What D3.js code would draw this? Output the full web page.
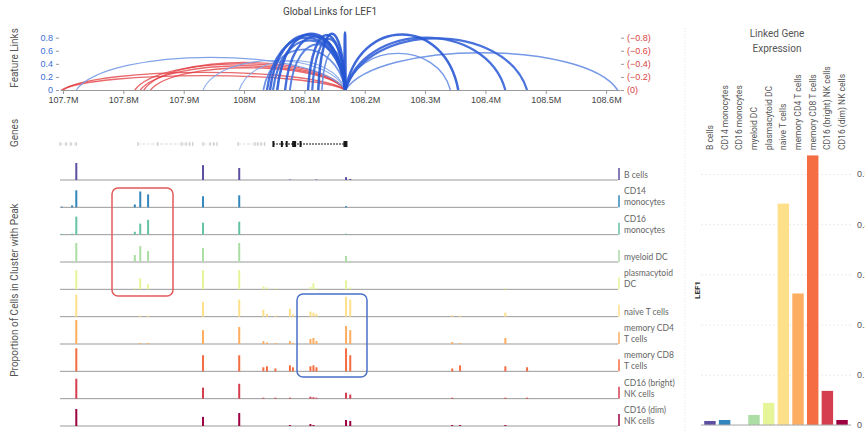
<!DOCTYPE html>
<html>
<head>
<meta charset="utf-8">
<script src="https://cdn.jsdelivr.net/npm/d3@7"></script>
<style>
  body { margin: 0; background: #fff; overflow: hidden; }
  svg { display: block; font-family: Roboto, "Noto Sans", sans-serif; }
</style>
</head>
<body>
<div id="chart"></div>
<script>
// cell clusters
const clusters = ["B cells", "CD14 monocytes", "CD16 monocytes", "myeloid DC", "plasmacytoid DC",
  "naive T cells", "memory CD4 T cells", "memory CD8 T cells", "CD16 (bright) NK cells", "CD16 (dim) NK cells"];
const trackLabels = [["B cells"], ["CD14", "monocytes"], ["CD16", "monocytes"], ["myeloid DC"],
  ["plasmacytoid", "DC"], ["naive T cells"], ["memory CD4", "T cells"], ["memory CD8", "T cells"],
  ["CD16 (bright)", "NK cells"], ["CD16 (dim)", "NK cells"]];
const clusterColors = d3.schemeSpectral[10].slice().reverse();

// links to the LEF1 TSS (Mb, score; negative = red)
const tss = 108.168;
const linkPeaks = [107.697, 107.700, 107.819, 107.828, 107.834, 107.845,
  107.722, 107.932, 107.992, 108.032, 108.038, 108.043, 108.048, 108.055, 108.068, 108.076,
  108.106, 108.113, 108.123, 108.129, 108.1665, 108.342, 108.355, 108.433, 108.469, 108.619];
const linkScores = [-0.22, -0.27, -0.40, -0.37, -0.42, -0.34,
  0.50, 0.45, 0.45, 0.62, 0.80, 0.84, 0.76, 0.86, 0.82, 0.70,
  0.84, 0.78, 0.86, 0.60, 0.88, 0.56, 0.85, 0.80, 0.79, 0.57];

// genes
const geneStarts = [107.695, 107.824, 107.932, 107.990, 108.048];
const geneEnds = [107.723, 107.916, 107.955, 108.035, 108.171];
const geneExons = [
  [107.695, 107.705, 107.713, 107.722],
  [107.824, 107.857, 107.897, 107.904, 107.910, 107.915],
  [107.932, 107.944, 107.950, 107.955],
  [107.990, 108.018, 108.023, 108.028, 108.034],
  [108.048, 108.062, 108.070, 108.083, 108.093, 108.168]
];
const geneMain = [false, false, false, false, true];

// peaks and proportion of cells in each cluster with the peak
const peakPositions = [107.698, 107.715, 107.722, 107.819, 107.828, 107.841, 107.932, 107.992,
  108.032, 108.038, 108.052, 108.076, 108.081, 108.110, 108.115, 108.120, 108.169, 108.176,
  108.345, 108.358, 108.433, 108.469];
const peakProportions = [
  [0, 0, .71, 0, 0, 0, .62, .50, 0, 0, 0, .02, 0, 0, 0, .02, .12, .04, 0, 0, 0, 0],
  [.03, .08, .71, .12, .66, .54, .46, .50, 0, 0, 0, 0, 0, 0, 0, 0, .05, 0, 0, 0, 0, 0],
  [.03, .04, .75, .12, .46, .62, .50, .54, 0, 0, 0, 0, 0, 0, 0, 0, .04, 0, 0, 0, 0, 0],
  [0, .04, .79, .29, .66, .46, .58, .79, 0, 0, 0, 0, 0, 0, 0, .02, .25, .04, 0, 0, 0, 0],
  [0, 0, .80, .04, .46, .21, .80, .80, .12, .08, .04, 0, 0, .10, .25, .06, .38, .08, 0, 0, .04, 0],
  [0, 0, .92, 0, .04, .04, .62, .71, .29, .12, .04, .33, .10, .21, .17, .12, .83, .71, .06, .04, .17, 0],
  [0, 0, 1.0, 0, .04, .04, .58, .71, .12, .06, .04, .12, .04, .21, .25, .12, .75, .58, .08, .04, .25, 0],
  [0, 0, .96, 0, 0, 0, .67, .67, .17, .21, .12, .25, .17, .21, .25, .17, .96, .67, .12, .25, .21, .17],
  [0, 0, .83, 0, 0, 0, .46, .62, .04, 0, .04, .04, 0, .08, .06, .04, .25, .17, .04, 0, .04, .04],
  [0, 0, .71, 0, 0, 0, .38, .54, 0, 0, 0, .04, 0, .08, .04, 0, .25, .21, .04, .04, .04, 0]
];

// linked gene expression (LEF1)
const expression = [0.008, 0.010, 0.0, 0.020, 0.044, 0.441, 0.262, 0.537, 0.068, 0.010];
const exprTicks = [0, 0.1, 0.2, 0.3, 0.4, 0.5];

const WIDTH = 865;
const HEIGHT = 432;

const svg = d3.select("#chart").append("svg")
  .attr("width", WIDTH)
  .attr("height", HEIGHT);

const x = d3.scaleLinear().domain([107.695, 108.623]).range([60, 620]);

// ---- links panel ----
const linkY = d3.scaleLinear().domain([0, 1]).range([90, 24.6]);

svg.append("text")
  .attr("x", 330).attr("y", 15)
  .attr("text-anchor", "middle")
  .attr("font-size", 10).attr("fill", "#444")
  .text("Global Links for LEF1");

const sideLabel = (txt, cy) => svg.append("text")
  .attr("transform", `translate(18,${cy}) rotate(-90)`)
  .attr("text-anchor", "middle")
  .attr("font-size", 10).attr("fill", "#555")
  .text(txt);
sideLabel("Feature Links", 58);
sideLabel("Genes", 133);
sideLabel("Proportion of Cells in Cluster with Peak", 290);

const links = linkPeaks.map((p, i) => ({ peak: p, score: linkScores[i] }));
const blueWidth = d3.scaleLinear().domain([0.4, 0.88]).range([0.9, 2.6]).clamp(true);
const blueColor = d3.scaleLinear().domain([0.4, 0.88]).range(["#8cadee", "#2253d2"]).clamp(true);

// arcs as symmetric cubic curves whose top reaches the score
svg.append("g")
  .attr("fill", "none")
  .selectAll("path")
  .data(links.sort((a, b) => a.score - b.score))
  .enter()
  .append("path")
  .attr("d", d => {
    const x1 = Math.min(x(d.peak), x(tss));
    const x2 = Math.max(x(d.peak), x(tss));
    const w = Math.max(x2 - x1, 1);
    const y0 = linkY(0);
    const cy = y0 - (y0 - linkY(Math.abs(d.score))) * 4 / 3;
    return `M${x1},${y0} C${x1 + w * 0.12},${cy} ${x2 - w * 0.12},${cy} ${x1 + w},${y0}`;
  })
  .attr("stroke", d => d.score < 0 ? "#e2383c" : blueColor(d.score))
  .attr("stroke-opacity", d => d.score < 0 ? 0.75 : 0.9)
  .attr("stroke-width", d => d.score < 0 ? 1.4 : blueWidth(d.score));

const xAxis = svg.append("g")
  .attr("transform", `translate(0,${linkY(0)})`)
  .call(d3.axisBottom(x)
    .tickValues(d3.range(10).map(i => 107.7 + i * 0.1))
    .tickFormat(d => (+d.toFixed(1)) + "M")
    .tickSize(4).tickSizeOuter(0));
xAxis.selectAll("text").attr("font-size", 9).attr("fill", "#444");
xAxis.selectAll("line, path").attr("stroke", "#999");

const yLeft = svg.append("g")
  .attr("transform", "translate(59,0)")
  .call(d3.axisLeft(linkY).tickValues([0, 0.2, 0.4, 0.6, 0.8]).tickSize(3).tickFormat(d3.format("")));
yLeft.select(".domain").remove();
yLeft.selectAll("text").attr("font-size", 9).attr("fill", "#3b6fd8");
yLeft.selectAll("line").attr("stroke", "#999");

const yRight = svg.append("g")
  .attr("transform", "translate(621,0)")
  .call(d3.axisRight(linkY).tickValues([0, 0.2, 0.4, 0.6, 0.8]).tickSize(3)
    .tickFormat(d => d === 0 ? "(0)" : "(\u2212" + d + ")"));
yRight.select(".domain").remove();
yRight.selectAll("text").attr("font-size", 9).attr("fill", "#d94444");
yRight.selectAll("line").attr("stroke", "#999");

// ---- gene track ----
const geneY = 144;
const genes = svg.append("g");
geneStarts.forEach((s, i) => {
  const col = geneMain[i] ? "#1a1a1a" : "#cccccc";
  const g = genes.append("g");
  g.append("line")
    .attr("x1", x(s)).attr("x2", x(geneEnds[i]))
    .attr("y1", geneY).attr("y2", geneY)
    .attr("stroke", col)
    .attr("stroke-width", geneMain[i] ? 1 : 0.7)
    .attr("stroke-dasharray", geneMain[i] ? "2,1" : "3,1.5");
  g.selectAll("rect")
    .data(geneExons[i])
    .enter()
    .append("rect")
    .attr("x", (d, j) => x(d) - (geneMain[i] && (j === 3 || j === 5) ? 2 : 0.6))
    .attr("width", (d, j) => geneMain[i] && (j === 3 || j === 5) ? 4 : (geneMain[i] ? 2 : 1.2))
    .attr("y", geneY - (geneMain[i] ? 3 : 2))
    .attr("height", geneMain[i] ? 6 : 4)
    .attr("fill", col);
});

// ---- peak tracks ----
const trackY = d3.scalePoint().domain(clusters).range([180, 426]);
const peakH = d3.scaleLinear().domain([0, 1]).range([0, 24]);

const tracks = svg.append("g")
  .selectAll("g")
  .data(clusters)
  .enter()
  .append("g")
  .attr("transform", d => `translate(0,${trackY(d)})`);

tracks.append("line")
  .attr("x1", 60).attr("x2", 618)
  .attr("stroke", "#999").attr("stroke-width", 1);

tracks.each(function (c, ci) {
  const t = d3.select(this);
  t.selectAll("rect")
    .data(peakProportions[ci].map((v, j) => ({ pos: peakPositions[j], v })).filter(d => d.v > 0))
    .enter()
    .append("rect")
    .attr("x", d => x(d.pos) - 1)
    .attr("width", 2)
    .attr("y", d => -peakH(d.v))
    .attr("height", d => peakH(d.v))
    .attr("fill", clusterColors[ci]);

  // scale bar
  t.append("line")
    .attr("x1", 619).attr("x2", 619)
    .attr("y1", 0).attr("y2", -peakH(0.5))
    .attr("stroke", clusterColors[ci]).attr("stroke-width", 1.5);

  const lines = trackLabels[ci];
  t.selectAll("text")
    .data(lines)
    .enter()
    .append("text")
    .attr("x", 624)
    .attr("y", (d, k) => -2 - (lines.length - 1 - k) * 11)
    .attr("font-family", "Lato, sans-serif")
    .attr("font-size", 8.5).attr("fill", "#666")
    .text(d => d);
});

// highlight boxes
svg.append("rect")
  .attr("x", 112).attr("y", 188).attr("width", 61).attr("height", 108)
  .attr("rx", 6).attr("fill", "none")
  .attr("stroke", "#e25a5a").attr("stroke-width", 1.5);
svg.append("rect")
  .attr("x", 297).attr("y", 294).attr("width", 70).attr("height", 83)
  .attr("rx", 6).attr("fill", "none")
  .attr("stroke", "#4a72c8").attr("stroke-width", 1.5);

// ---- linked gene expression ----
svg.append("line")
  .attr("x1", 685).attr("x2", 685).attr("y1", 28).attr("y2", HEIGHT)
  .attr("stroke", "#e2e2e2").attr("stroke-dasharray", "1,2");

svg.append("text")
  .attr("x", 777).attr("text-anchor", "middle")
  .attr("font-size", 10).attr("fill", "#555")
  .selectAll("tspan")
  .data(["Linked Gene", "Expression"])
  .enter()
  .append("tspan")
  .attr("x", 777)
  .attr("y", (d, i) => 37 + i * 15)
  .text(d => d);

const bx = d3.scaleBand().domain(clusters).range([701, 851]).padding(0.22);
const by = d3.scaleLinear().domain([0, 0.5]).range([425, 174]);

const exprAxis = svg.append("g")
  .attr("transform", "translate(851,0)")
  .call(d3.axisRight(by).tickValues(exprTicks).tickSize(-150).tickPadding(6)
    .tickFormat(d => d === 0 ? "0" : d3.format(".1f")(d)));
exprAxis.select(".domain").remove();
exprAxis.selectAll("line").attr("stroke", "#ececec").attr("stroke-dasharray", "2,2");
exprAxis.selectAll("text").attr("font-size", 9).attr("fill", "#555");

svg.append("g")
  .selectAll("rect")
  .data(clusters)
  .enter()
  .append("rect")
  .attr("x", d => bx(d))
  .attr("width", bx.bandwidth())
  .attr("y", (d, i) => by(expression[i]))
  .attr("height", (d, i) => by(0) - by(expression[i]))
  .attr("fill", (d, i) => clusterColors[i]);

svg.append("line")
  .attr("x1", 701).attr("x2", 851).attr("y1", by(0)).attr("y2", by(0))
  .attr("stroke", "#aaa");

svg.append("g")
  .selectAll("text")
  .data(clusters)
  .enter()
  .append("text")
  .attr("transform", d => `translate(${bx(d) + bx.bandwidth() / 2 + 3},150) rotate(-90)`)
  .attr("font-size", 8.5).attr("fill", "#555")
  .text(d => d);

svg.append("text")
  .attr("transform", "translate(700,290) rotate(-90)")
  .attr("text-anchor", "middle")
  .attr("font-size", 8).attr("font-weight", "bold").attr("fill", "#333")
  .text("LEF1");
</script>
</body>
</html>
